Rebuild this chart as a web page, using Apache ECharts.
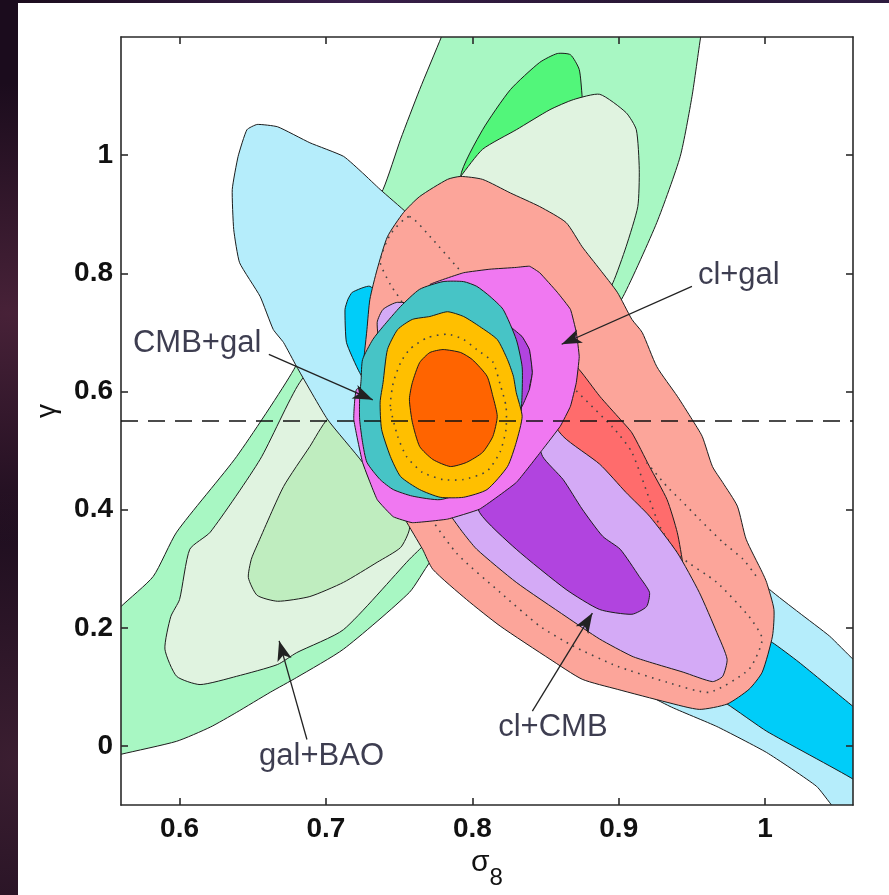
<!DOCTYPE html>
<html>
<head>
<meta charset="utf-8">
<script src="https://cdn.jsdelivr.net/npm/echarts@6/dist/echarts.min.js"></script>
<style>
html,body{margin:0;padding:0;width:889px;height:895px;overflow:hidden;}
body{background:#1b0c1d;
 background-image:
  radial-gradient(ellipse at 1% 35%, rgba(95,45,70,0.65), transparent 28%),
  radial-gradient(ellipse at 2% 85%, rgba(85,45,65,0.55), transparent 25%),
  radial-gradient(ellipse at 40% 0%, rgba(70,40,95,0.7), transparent 45%),
  radial-gradient(ellipse at 95% 0%, rgba(60,40,90,0.6), transparent 40%);}
#chart{position:absolute;left:18px;top:3px;width:871px;height:892px;}
</style>
</head>
<body>
<div id="chart"></div>
<script>
// ---- axis ticks ----
const sigma8Ticks = [0.6, 0.7, 0.8, 0.9, 1.0];
const gammaTicks = [0, 0.2, 0.4, 0.6, 0.8, 1.0];
const gammaGR = 0.55;

// ---- contour regions [sigma8, gamma] ----
const galBaoBand = [[0.785,1.24],[0.779,1.201],[0.764,1.111],[0.751,1.027],[0.739,0.942],[0.708,0.790],[0.678,0.637],[0.639,0.490],[0.598,0.362],[0.582,0.287],[0.560,0.236],[0.546,0.197],[0.546,-0.023],[0.560,-0.014],[0.598,0.008],[0.621,0.032],[0.639,0.057],[0.662,0.091],[0.680,0.116],[0.712,0.164],[0.757,0.260],[0.771,0.311],[0.798,0.384],[0.839,0.519],[0.873,0.637],[0.903,0.761],[0.926,0.886],[0.942,0.998],[0.950,1.099],[0.956,1.201],[0.959,1.24]];
const galBaoInnerBand = [[0.792,0.964],[0.807,1.043],[0.826,1.111],[0.846,1.157],[0.858,1.172],[0.867,1.170],[0.873,1.145],[0.875,1.099],[0.876,1.069],[0.846,0.993],[0.805,0.925]];
const galBaoOuter = [[0.590,0.164],[0.594,0.219],[0.600,0.248],[0.607,0.333],[0.621,0.362],[0.655,0.485],[0.682,0.615],[0.737,0.790],[0.792,0.964],[0.807,1.010],[0.830,1.043],[0.853,1.077],[0.869,1.094],[0.887,1.103],[0.905,1.072],[0.912,1.043],[0.914,0.976],[0.913,0.913],[0.905,0.845],[0.896,0.784],[0.873,0.671],[0.832,0.519],[0.798,0.417],[0.764,0.333],[0.757,0.316],[0.712,0.197],[0.680,0.158],[0.667,0.138],[0.639,0.118],[0.614,0.104],[0.598,0.118]];
const galBaoInner = [[0.647,0.285],[0.649,0.316],[0.653,0.340],[0.671,0.439],[0.689,0.507],[0.701,0.553],[0.723,0.587],[0.744,0.553],[0.757,0.451],[0.757,0.367],[0.751,0.336],[0.735,0.311],[0.712,0.277],[0.689,0.253],[0.667,0.245],[0.653,0.255]];
const cmbOuter = [[0.653,1.052],[0.667,1.048],[0.689,1.021],[0.712,0.998],[0.725,0.970],[0.737,0.942],[0.755,0.903],[0.819,0.756],[0.887,0.570],[0.955,0.384],[1.003,0.265],[1.023,0.226],[1.044,0.186],[1.060,0.147],[1.071,0.126],[1.071,-0.175],[1.046,-0.102],[1.035,-0.068],[1.001,-0.011],[0.967,0.033],[0.935,0.067],[0.887,0.130],[0.819,0.248],[0.771,0.367],[0.730,0.451],[0.725,0.480],[0.701,0.553],[0.680,0.642],[0.671,0.683],[0.664,0.705],[0.655,0.761],[0.641,0.818],[0.637,0.874],[0.636,0.942],[0.640,0.998],[0.646,1.043]];
const cmbInner = [[0.713,0.739],[0.715,0.756],[0.718,0.768],[0.730,0.778],[0.764,0.705],[0.853,0.468],[0.955,0.248],[1.005,0.175],[1.023,0.142],[1.060,0.067],[1.071,0.045],[1.071,-0.082],[1.060,-0.056],[1.001,0.025],[0.974,0.071],[0.921,0.147],[0.819,0.367],[0.751,0.519],[0.723,0.632],[0.714,0.683]];
const clGalOuter = [[0.753,0.903],[0.764,0.930],[0.783,0.959],[0.792,0.964],[0.807,0.959],[0.826,0.936],[0.846,0.913],[0.864,0.886],[0.875,0.845],[0.887,0.807],[0.899,0.768],[0.909,0.722],[0.916,0.700],[0.926,0.642],[0.940,0.592],[0.950,0.553],[0.957,0.524],[0.964,0.473],[0.971,0.446],[0.981,0.406],[0.987,0.350],[0.998,0.294],[1.001,0.277],[1.006,0.231],[1.005,0.186],[0.998,0.125],[0.989,0.096],[0.974,0.071],[0.955,0.062],[0.933,0.074],[0.899,0.096],[0.875,0.113],[0.853,0.147],[0.819,0.203],[0.796,0.248],[0.773,0.299],[0.766,0.333],[0.754,0.384],[0.737,0.468],[0.727,0.553],[0.725,0.626],[0.728,0.705],[0.730,0.756],[0.735,0.807],[0.742,0.862]];
const clGalInner = [[0.846,0.705],[0.873,0.637],[0.887,0.592],[0.901,0.553],[0.909,0.530],[0.921,0.473],[0.933,0.417],[0.940,0.361],[0.944,0.304],[0.944,0.282],[0.914,0.358],[0.873,0.468],[0.839,0.553],[0.819,0.620]];
const clGalDotRing = [[0.757,0.896],[0.773,0.857],[0.789,0.812],[0.839,0.680],[0.896,0.539],[0.909,0.497],[0.928,0.372],[0.942,0.321],[0.967,0.277],[0.989,0.219],[0.998,0.181],[0.989,0.130],[0.962,0.091],[0.933,0.108],[0.899,0.135],[0.869,0.169],[0.846,0.203],[0.819,0.260],[0.789,0.327],[0.764,0.417],[0.747,0.553],[0.754,0.739],[0.744,0.781],[0.737,0.820],[0.744,0.866]];
const clGalDotArc = [[0.919,0.480],[0.933,0.439],[0.942,0.417],[0.955,0.384],[0.971,0.345],[0.985,0.316],[0.994,0.287]];
const clCmbOuter = [[0.735,0.717],[0.739,0.739],[0.749,0.751],[0.778,0.739],[0.832,0.620],[0.862,0.524],[0.887,0.477],[0.905,0.429],[0.921,0.389],[0.940,0.327],[0.955,0.260],[0.967,0.192],[0.974,0.147],[0.971,0.118],[0.964,0.109],[0.944,0.125],[0.921,0.142],[0.909,0.152],[0.887,0.181],[0.864,0.219],[0.830,0.277],[0.803,0.333],[0.793,0.363],[0.786,0.387],[0.764,0.468],[0.747,0.587],[0.737,0.671]];
const clCmbInner = [[0.826,0.710],[0.834,0.693],[0.839,0.671],[0.841,0.632],[0.839,0.604],[0.843,0.536],[0.848,0.490],[0.862,0.451],[0.875,0.401],[0.889,0.355],[0.901,0.333],[0.914,0.287],[0.921,0.260],[0.919,0.236],[0.909,0.223],[0.887,0.231],[0.864,0.265],[0.830,0.333],[0.805,0.395],[0.798,0.468],[0.805,0.587],[0.815,0.688]];
const clGalAll = [[0.771,0.781],[0.794,0.801],[0.812,0.807],[0.830,0.810],[0.839,0.812],[0.846,0.801],[0.858,0.768],[0.867,0.739],[0.871,0.700],[0.873,0.659],[0.871,0.615],[0.867,0.575],[0.860,0.541],[0.848,0.502],[0.830,0.446],[0.805,0.401],[0.783,0.384],[0.759,0.378],[0.746,0.388],[0.735,0.417],[0.725,0.480],[0.719,0.553],[0.721,0.604],[0.751,0.620],[0.798,0.587],[0.829,0.561],[0.834,0.575],[0.839,0.604],[0.841,0.632],[0.839,0.671],[0.834,0.693],[0.826,0.710],[0.814,0.751],[0.792,0.773]];
const cmbGalOuter = [[0.725,0.654],[0.732,0.688],[0.739,0.710],[0.751,0.744],[0.764,0.773],[0.780,0.786],[0.794,0.786],[0.803,0.778],[0.812,0.761],[0.821,0.739],[0.830,0.688],[0.834,0.642],[0.834,0.598],[0.833,0.561],[0.826,0.502],[0.798,0.434],[0.778,0.417],[0.759,0.423],[0.746,0.434],[0.737,0.451],[0.728,0.480],[0.725,0.514],[0.723,0.553],[0.723,0.587],[0.724,0.620]];
const cmbGalMid = [[0.739,0.615],[0.742,0.671],[0.749,0.705],[0.759,0.722],[0.771,0.727],[0.783,0.735],[0.794,0.727],[0.805,0.710],[0.817,0.688],[0.824,0.654],[0.828,0.626],[0.830,0.598],[0.834,0.558],[0.830,0.514],[0.824,0.473],[0.810,0.434],[0.794,0.421],[0.778,0.421],[0.764,0.434],[0.751,0.456],[0.744,0.490],[0.738,0.536],[0.737,0.582]];
const cmbGalInner = [[0.759,0.615],[0.764,0.649],[0.771,0.666],[0.780,0.671],[0.792,0.666],[0.800,0.654],[0.810,0.626],[0.814,0.592],[0.817,0.558],[0.814,0.524],[0.807,0.497],[0.796,0.480],[0.785,0.473],[0.773,0.485],[0.764,0.507],[0.759,0.548],[0.757,0.587]];
const cmbGalDotRing = [[0.744,0.575],[0.746,0.615],[0.751,0.649],[0.757,0.671],[0.769,0.691],[0.783,0.697],[0.794,0.688],[0.803,0.671],[0.814,0.650],[0.819,0.612],[0.823,0.575],[0.823,0.536],[0.819,0.498],[0.810,0.465],[0.794,0.451],[0.780,0.451],[0.766,0.463],[0.755,0.490],[0.749,0.524]];

// ---- annotations ----
const labelNames = ['cl+gal', 'CMB+gal', 'gal+BAO', 'cl+CMB'];
const labelPos = [[0.982,0.796],[0.612,0.681],[0.697,-0.017],[0.855,0.032]];
const arrowFrom = [[0.950,0.778],[0.661,0.663],[0.687,0.011],[0.841,0.059]];
const arrowTo = [[0.861,0.680],[0.732,0.586],[0.668,0.178],[0.882,0.225]];

const FONT = '"Liberation Sans", Arial, sans-serif';
const EDGE = '#1c1c1c';

function region(pts, fill, smooth) {
  return {
    type: 'custom', coordinateSystem: 'cartesian2d', clip: true, silent: true,
    animation: false, data: pts, encode: {x: 0, y: 1},
    renderItem: function (params, api) {
      if (params.dataIndex !== 0) return null;
      return {
        type: 'polygon',
        shape: {points: pts.map(p => api.coord(p)), smooth: smooth},
        style: {fill: fill, stroke: EDGE, lineWidth: 1}
      };
    }
  };
}
function dotted(pts, closed) {
  return {
    type: 'custom', coordinateSystem: 'cartesian2d', clip: true, silent: true,
    animation: false, data: pts, encode: {x: 0, y: 1},
    renderItem: function (params, api) {
      if (params.dataIndex !== 0) return null;
      return {
        type: closed ? 'polygon' : 'polyline',
        shape: {points: pts.map(p => api.coord(p)), smooth: 0.2},
        style: {fill: null, stroke: '#444', lineWidth: 1.6, lineDash: [1.6, 5.5]}
      };
    }
  };
}

const axisLineStyle = {color: '#2a2a2a', width: 1.6};
const tickStyle = {color: '#2a2a2a', width: 1.6};

const series = [
  region(galBaoBand, '#a8f7c3', 0.2),
  region(galBaoInnerBand, '#52f67a', 0.2),
  region(galBaoOuter, '#e0f3e0', 0.2),
  region(galBaoInner, '#bfedbf', 0.2),
  region(cmbOuter, '#b5edfb', 0.15),
  region(cmbInner, '#00cdf9', 0.15),
  region(clGalOuter, '#fca59a', 0.2),
  region(clGalInner, '#ff6c6c', 0.2),
  dotted(clGalDotRing, true),
  dotted(clGalDotArc, false),
  region(clCmbOuter, '#d4aaf6', 0.2),
  region(clCmbInner, '#b144df', 0.2),
  region(clGalAll, '#f078f1', 0.1),
  region(cmbGalOuter, '#47c4c6', 0.2),
  region(cmbGalMid, '#ffbf00', 0.2),
  region(cmbGalInner, '#ff6400', 0.2),
  dotted(cmbGalDotRing, true),
  {
    type: 'line', data: [[0.56, gammaGR], [1.06, gammaGR]], symbol: 'none', silent: true,
    animation: false, z: 20,
    lineStyle: {color: '#111', width: 1.6, type: [17, 10]}
  },
  {
    type: 'line', data: [], silent: true, animation: false, z: 21,
    markLine: {
      silent: true, animation: false, symbol: ['none', 'arrow'], symbolSize: [11, 20],
      label: {show: false},
      lineStyle: {type: 'solid', color: '#222', width: 1.3},
      data: arrowFrom.map((f, i) => [{coord: f}, {coord: arrowTo[i]}])
    }
  },
  {
    type: 'scatter', silent: true, animation: false, z: 22, symbolSize: 1,
    itemStyle: {color: 'rgba(0,0,0,0)'},
    data: labelPos.map((p, i) => [p[0], p[1], labelNames[i]]),
    label: {
      show: true, position: 'inside', formatter: p => p.data[2],
      fontFamily: FONT, fontSize: 31, color: '#0c0c24'
    }
  }
];

const chart = echarts.init(document.getElementById('chart'), null, {renderer: 'canvas'});
chart.setOption({
  backgroundColor: '#ffffff',
  animation: false,
  grid: {left: 103, top: 34, width: 732, height: 772, containLabel: false},
  xAxis: [
    {
      type: 'value', min: 0.56, max: 1.06, position: 'bottom', z: 10,
      axisLine: {show: true, onZero: false, lineStyle: axisLineStyle},
      axisTick: {show: true, inside: true, length: 7, customValues: sigma8Ticks, lineStyle: tickStyle},
      axisLabel: {customValues: sigma8Ticks, fontFamily: FONT, fontSize: 28, fontWeight: 'bold', color: '#111', margin: 10},
      splitLine: {show: false},
      name: '{s|σ}{b|8}', nameLocation: 'middle', nameGap: 36,
      nameTextStyle: {
        rich: {
          s: {fontFamily: FONT, fontSize: 30, color: '#111', lineHeight: 30, verticalAlign: 'top'},
          b: {fontFamily: FONT, fontSize: 24, color: '#111', lineHeight: 42, verticalAlign: 'bottom'}
        }
      }
    },
    {
      type: 'value', min: 0.56, max: 1.06, position: 'top', z: 10,
      axisLine: {show: true, onZero: false, lineStyle: axisLineStyle},
      axisTick: {show: true, inside: true, length: 7, customValues: sigma8Ticks, lineStyle: tickStyle},
      axisLabel: {show: false}, splitLine: {show: false}
    }
  ],
  yAxis: [
    {
      type: 'value', min: -0.1, max: 1.2, position: 'left', z: 10,
      axisLine: {show: true, onZero: false, lineStyle: axisLineStyle},
      axisTick: {show: true, inside: true, length: 7, customValues: gammaTicks, lineStyle: tickStyle},
      axisLabel: {customValues: gammaTicks, fontFamily: FONT, fontSize: 28, fontWeight: 'bold', color: '#111', margin: 8},
      splitLine: {show: false},
      name: 'γ', nameLocation: 'middle', nameGap: 60,
      nameTextStyle: {fontFamily: FONT, fontSize: 28, color: '#111', padding: [0, 0, 0, 20]}
    },
    {
      type: 'value', min: -0.1, max: 1.2, position: 'right', z: 10,
      axisLine: {show: true, onZero: false, lineStyle: axisLineStyle},
      axisTick: {show: true, inside: true, length: 7, customValues: gammaTicks, lineStyle: tickStyle},
      axisLabel: {show: false}, splitLine: {show: false}
    }
  ],
  series: series
});
</script>
</body>
</html>
